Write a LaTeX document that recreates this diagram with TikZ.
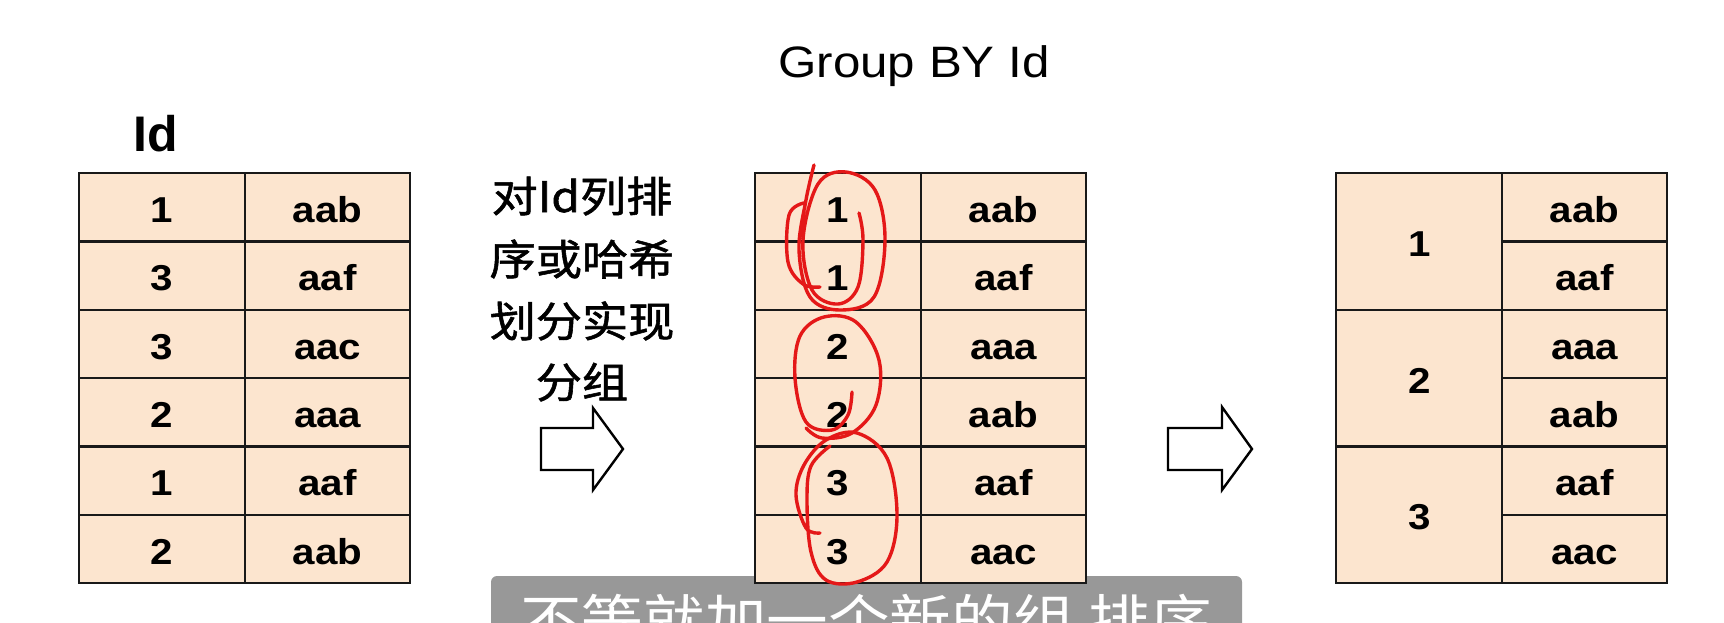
\documentclass[tikz,border=0pt]{standalone}
\usepackage{fontspec}
\setmainfont[FakeStretch=1.12]{Liberation Sans}
\newfontfamily\idfont{Liberation Sans}
\newfontfamily\cjk[FakeStretch=1.1]{Noto Sans CJK SC}
\newfontfamily\cjkb[FakeStretch=1.1,FakeBold=1.3]{Noto Sans CJK SC}
\definecolor{cellfill}{RGB}{252,229,207}
\definecolor{inkred}{RGB}{228,24,24}
\definecolor{subgray}{RGB}{152,152,152}
\begin{document}
\begin{tikzpicture}[x=1pt,y=-1pt,
  cell/.style={draw=black!90, line width=2.4pt, fill=cellfill, minimum width=#1,
    minimum height=68.33pt, inner sep=0pt, text height=30pt, text depth=0pt,
    font=\bfseries\fontsize{36}{40}\selectfont, anchor=north west},
  bigcell/.style={cell=#1, minimum height=136.67pt},
  blockarrow/.style={draw=black, line width=2.4pt, fill=white, line join=miter},
  scribble/.style={draw=inkred, line width=3.4pt, line cap=round, line join=round},
  cjktext/.style={font=\cjkb\fontsize{42}{46}\selectfont, anchor=base}]
\clip (0,0) rectangle (1724,622);
\fill[white] (0,0) rectangle (1724,622);

% subtitle bar (behind tables)
\fill[subgray, rounded corners=6pt] (491,576) rectangle (1242,660);
\node[anchor=base, text=white, font=\cjk\fontsize{56}{60}\selectfont, inner sep=0pt] (sub) at (866,641) {不等就加一个新的组 排序};

% title and label
\node[anchor=base, font=\fontsize{44}{48}\selectfont, inner sep=0pt] (title) at (914,77) {Group BY Id};
\node[anchor=base, font=\idfont\bfseries\fontsize{50}{54}\selectfont, inner sep=0pt] (idlabel) at (156,151) {Id};

% left table
\foreach \v [count=\i from 0] in {1,3,3,2,1,2} {
  \node[cell=166pt] (La\i) at (78,{172+\i*68.333}) {\v};
}
\foreach \v [count=\i from 0] in {aab,aaf,aac,aaa,aaf,aab} {
  \node[cell=165pt] (Lb\i) at (244,{172+\i*68.333}) {\v};
}

% middle table
\foreach \v [count=\i from 0] in {1,1,2,2,3,3} {
  \node[cell=166pt] (Ma\i) at (754,{172+\i*68.333}) {\v};
}
\foreach \v [count=\i from 0] in {aab,aaf,aaa,aab,aaf,aac} {
  \node[cell=165pt] (Mb\i) at (920,{172+\i*68.333}) {\v};
}

% right table
\foreach \v [count=\i from 0] in {1,2,3} {
  \node[bigcell=166pt] (Ra\i) at (1335,{172+\i*136.667}) {\v};
}
\foreach \v [count=\i from 0] in {aab,aaf,aaa,aab,aaf,aac} {
  \node[cell=165pt] (Rb\i) at (1501,{172+\i*68.333}) {\v};
}

% explanation text
\node[cjktext] (t1) at (582,212) {对Id列排};
\node[cjktext] (t2) at (582,275) {序或哈希};
\node[cjktext] (t3) at (582,337) {划分实现};
\node[cjktext] (t4) at (582,398) {分组};

% block arrows
\draw[blockarrow] (541,428) -- (593,428) -- (593,408) -- (623,449) -- (593,490) -- (593,470) -- (541,470) -- cycle;
\draw[blockarrow] (1168,428) -- (1222,428) -- (1222,407) -- (1252,449) -- (1222,490) -- (1222,470) -- (1168,470) -- cycle;

% red hand-drawn circles
\draw[scribble] plot[smooth, tension=0.6] coordinates {(814,165) (806,200) (799,250) (810,297) (840,310) (874,297) (885,240) (875,190) (846,172) (818,184) (803,240) (812,290) (838,304) (858,287) (863,240) (859,213)};
\draw[scribble] plot[smooth, tension=0.6] coordinates {(804,203) (789,215) (788,262) (803,284) (820,287)};
\draw[scribble] plot[smooth, tension=0.6] coordinates {(852,392) (848,415) (832,430) (806,422) (795,378) (800,336) (824,317) (856,322) (879,360) (876,405) (852,433) (822,438) (806,428)};
\draw[scribble] plot[smooth, tension=0.6] coordinates {(820,533) (806,528) (796,495) (804,465) (826,440) (857,433) (887,458) (897,515) (887,562) (857,582) (826,580) (811,552) (807,500) (811,466) (830,446)};
\end{tikzpicture}
\end{document}
